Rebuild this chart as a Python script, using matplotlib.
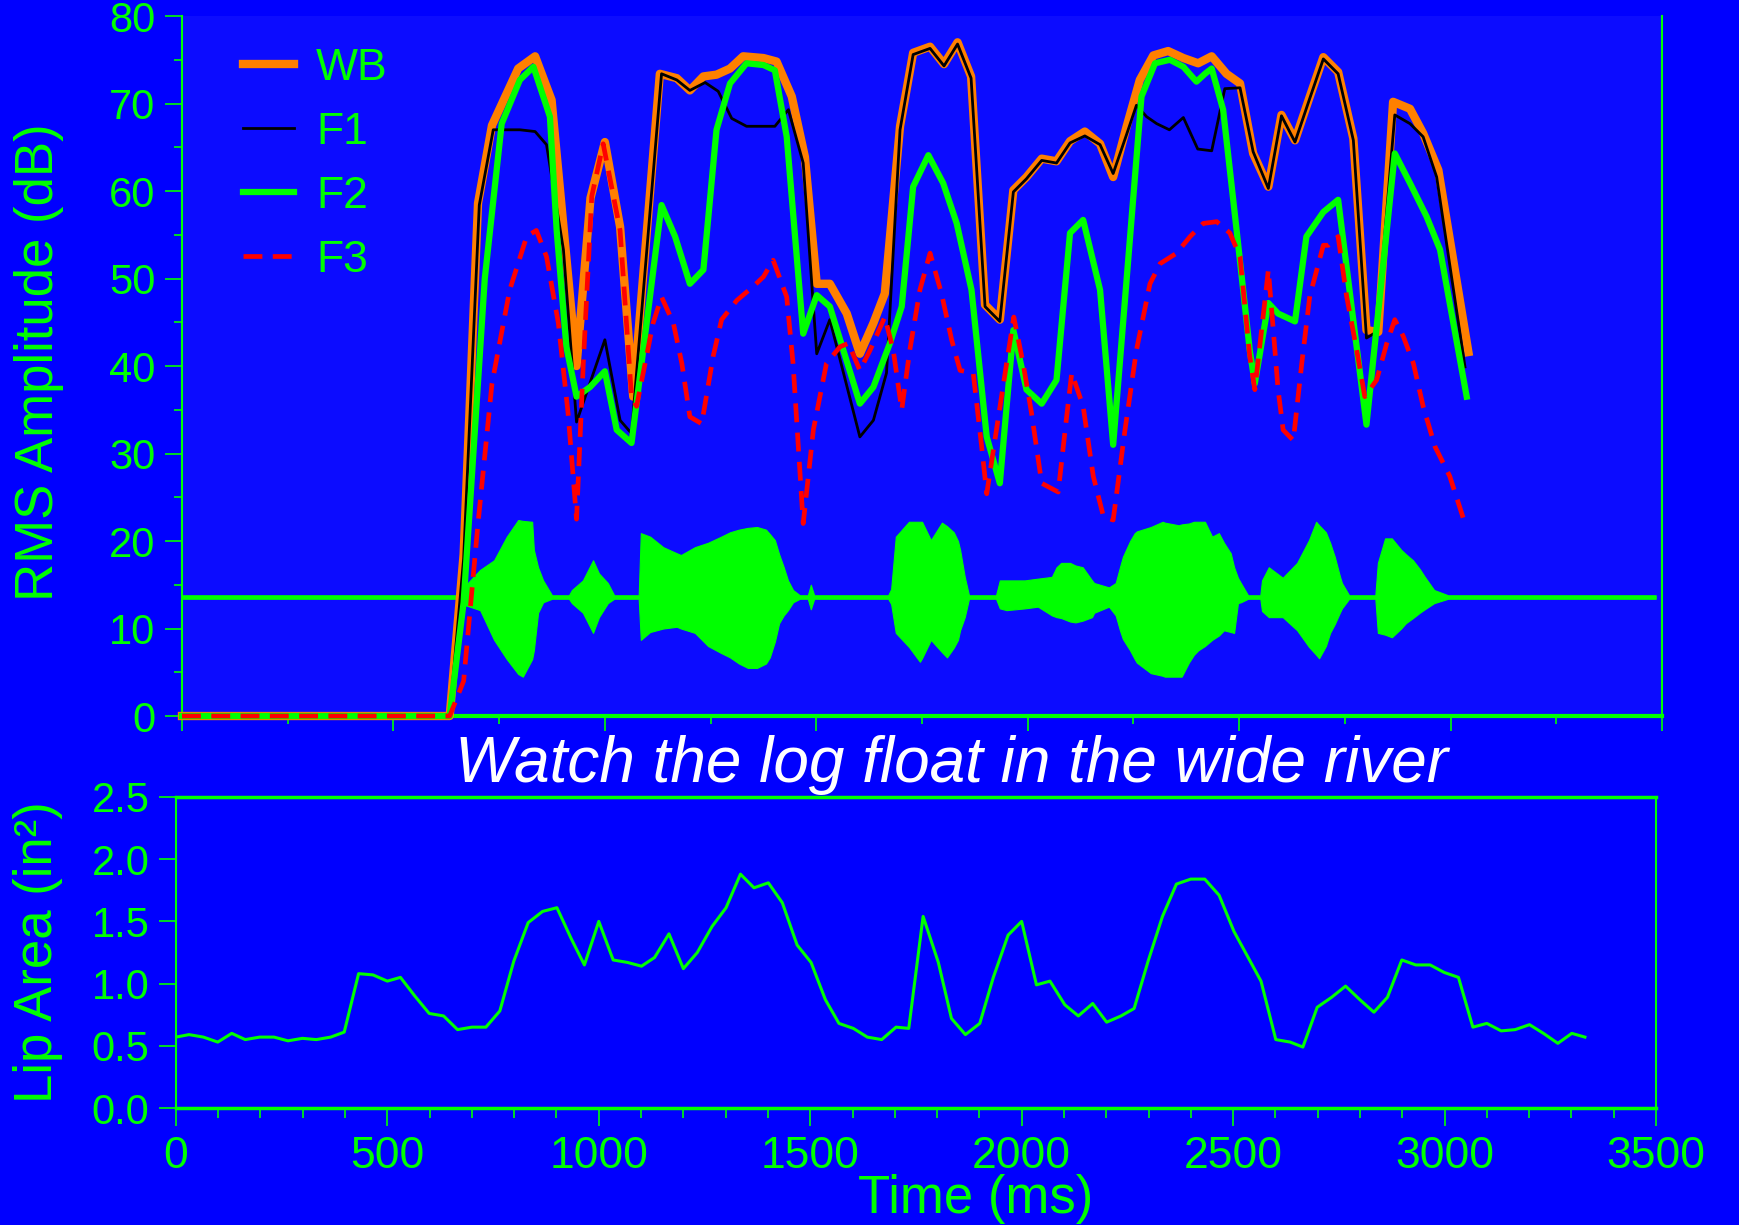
import numpy as np
import matplotlib
matplotlib.use("Agg")
import matplotlib.pyplot as plt
from matplotlib.ticker import MultipleLocator, FormatStrFormatter

plt.rcParams['font.family'] = ['Liberation Sans', 'DejaVu Sans']

GREEN = '#00ff00'
BLUE = '#0000ff'

# RMS amplitude tracks (time in ms, level in dB)
wb_t = [0, 633, 666, 700, 733, 795, 835, 874, 933, 966, 1000, 1036, 1067, 1130, 1170, 1201, 1233, 1264,
        1296, 1327, 1375, 1406, 1442, 1473, 1501, 1532, 1572, 1603, 1635, 1662, 1698, 1729, 1769, 1802,
        1834, 1866, 1899, 1934, 1966, 1997, 2033, 2068, 2100, 2135, 2171, 2202, 2234, 2265, 2297, 2332,
        2368, 2403, 2435, 2470, 2502, 2533, 2569, 2600, 2632, 2667, 2699, 2734, 2770, 2801, 2829, 2864,
        2904, 2935, 2971, 3042]
wb_db = [0, 0, 18.5, 58.6, 67.5, 74.0, 75.4, 70.4, 40.0, 59.2, 65.6, 55.9, 36.5, 73.4, 72.9, 71.5, 73.1,
         73.3, 74.0, 75.4, 75.2, 74.8, 70.8, 63.9, 49.4, 49.4, 46.0, 41.4, 44.9, 48.3, 67.4, 75.8, 76.5,
         74.5, 77.0, 73.1, 47.0, 45.3, 60.1, 61.6, 63.7, 63.4, 65.7, 66.8, 65.4, 61.6, 67.4, 72.7, 75.5,
         76.0, 75.2, 74.6, 75.4, 73.4, 72.3, 64.3, 60.5, 68.7, 65.8, 70.8, 75.3, 73.6, 66.0, 44.1, 43.9,
         70.2, 69.4, 66.6, 62.4, 41.6]

f1_t = [0, 633, 666, 703, 736, 799, 835, 862, 902, 933, 1000, 1036, 1063, 1134, 1170, 1201, 1237, 1268,
        1300, 1335, 1402, 1434, 1469, 1501, 1532, 1603, 1635, 1666, 1698, 1729, 1769, 1802, 1834, 1866,
        1899, 1934, 1966, 1997, 2033, 2068, 2100, 2135, 2171, 2202, 2234, 2257, 2281, 2305, 2335, 2368,
        2402, 2435, 2466, 2502, 2533, 2569, 2600, 2632, 2667, 2699, 2734, 2770, 2801, 2825, 2868, 2904,
        2935, 2967, 3034]
f1_db = [0, 0, 18, 58.4, 67.0, 67.0, 66.8, 65.3, 53.3, 33.6, 43.0, 33.8, 32.3, 73.4, 72.7, 71.5, 72.4,
         71.4, 68.3, 67.4, 67.4, 69.3, 63.2, 41.4, 45.3, 31.9, 33.8, 39.2, 67.0, 75.6, 76.3, 74.3, 76.8,
         72.9, 46.8, 45.1, 59.9, 61.4, 63.5, 63.2, 65.5, 66.3, 65.3, 62.0, 66.5, 69.8, 68.5, 67.7, 67.0,
         68.4, 64.8, 64.6, 71.7, 71.8, 64.5, 60.3, 68.6, 65.6, 70.6, 75.1, 73.4, 65.8, 43.2, 43.9, 68.7,
         67.7, 66.2, 61.6, 39.9]

f2_t = [0, 633, 666, 716, 756, 799, 831, 870, 886, 909, 933, 965, 1000, 1028, 1063, 1134, 1166, 1201,
        1233, 1264, 1296, 1335, 1375, 1402, 1430, 1469, 1501, 1532, 1564, 1603, 1635, 1674, 1702, 1729,
        1765, 1800, 1832, 1867, 1903, 1934, 1966, 1997, 2033, 2068, 2100, 2131, 2171, 2202, 2269, 2301,
        2336, 2368, 2399, 2419, 2435, 2462, 2494, 2525, 2537, 2569, 2592, 2632, 2659, 2699, 2734, 2801,
        2868, 2904, 2943, 2975, 3038]
f2_db = [0, 0, 13, 50.0, 67.7, 72.7, 74.2, 68.5, 55.5, 42.2, 36.5, 37.6, 39.4, 32.7, 31.2, 58.4, 54.8,
         49.4, 51.0, 67.0, 72.3, 74.6, 74.4, 73.8, 66.2, 43.7, 48.1, 46.8, 41.8, 35.7, 37.6, 42.6, 46.8,
         60.5, 64.1, 60.9, 56.3, 48.7, 31.9, 26.6, 44.1, 37.3, 35.7, 38.4, 55.2, 56.7, 48.7, 31.0, 70.8,
         74.6, 75.0, 74.2, 72.5, 73.4, 74.0, 69.3, 55.5, 41.8, 38.0, 47.2, 46.0, 45.1, 54.8, 57.6, 59.0,
         33.3, 64.3, 60.9, 57.1, 53.3, 36.5]

f3_t = [0, 633, 666, 700, 733, 775, 815, 838, 862, 890, 913, 933, 949, 969, 996, 1036, 1063, 1075, 1114,
        1134, 1162, 1182, 1201, 1229, 1256, 1276, 1312, 1351, 1375, 1398, 1430, 1445, 1469, 1493, 1524,
        1556, 1576, 1603, 1627, 1662, 1682, 1702, 1721, 1745, 1769, 1796, 1820, 1840, 1871, 1891, 1903,
        1926, 1950, 1967, 1989, 2009, 2033, 2072, 2092, 2104, 2131, 2155, 2179, 2202, 2230, 2257, 2289,
        2313, 2352, 2384, 2415, 2447, 2478, 2502, 2525, 2537, 2553, 2569, 2580, 2592, 2604, 2628, 2648,
        2667, 2699, 2711, 2734, 2754, 2778, 2797, 2825, 2849, 2868, 2888, 2912, 2935, 2963, 2998, 3034]
f3_db = [0, 0, 4, 22, 38, 48.7, 54.8, 55.5, 52.5, 44.9, 34.6, 22.5, 40.3, 59.4, 65.4, 55.5, 36.5, 35.4,
         44.9, 47.9, 44.9, 40.3, 34.2, 33.4, 41.1, 45.3, 47.5, 49.1, 50.2, 52.1, 47.9, 40.3, 22.0, 32.7,
         40.3, 42.2, 42.6, 39.5, 41.8, 45.6, 41.8, 35.0, 41.8, 48.7, 52.9, 48.3, 43.0, 39.5, 39.2, 30.8,
         25.4, 32.7, 40.3, 45.6, 40.3, 34.6, 26.6, 25.6, 34.2, 39.2, 35.4, 27.4, 22.8, 22.4, 32.7, 41.8,
         49.4, 51.7, 52.9, 54.8, 56.3, 56.5, 55.2, 52.5, 41.1, 37.3, 44.1, 51.0, 44.5, 37.3, 32.7, 31.5,
         40.3, 48.0, 53.8, 53.8, 54.8, 48.0, 41.8, 36.5, 38.4, 42.6, 45.3, 43.4, 40.3, 35.4, 30.8, 27.4,
         22.0]

# speech waveform envelope, drawn in dB units of the upper panel
wave_t = [0, 655, 662, 705, 738, 768, 795, 806, 828, 832, 842, 854, 875, 915, 922, 948, 972, 986, 1007,
          1022, 1080, 1085, 1107, 1138, 1170, 1180, 1213, 1244, 1275, 1296, 1317, 1338, 1360, 1381, 1390,
          1402, 1412, 1423, 1433, 1445, 1461, 1480, 1487, 1495, 1670, 1677, 1688, 1719, 1745, 1750, 1771,
          1797, 1809, 1825, 1835, 1840, 1851, 1861, 1925, 1934, 1950, 1993, 2024, 2057, 2068, 2079, 2100,
          2113, 2130, 2152, 2157, 2192, 2208, 2218, 2225, 2242, 2253, 2258, 2291, 2319, 2324, 2357, 2364,
          2381, 2393, 2403, 2419, 2436, 2452, 2464, 2480, 2488, 2497, 2504, 2521, 2550, 2554, 2570, 2603,
          2637, 2665, 2682, 2689, 2705, 2715, 2726, 2738, 2743, 2760, 2822, 2828, 2845, 2861, 2883, 2894,
          2911, 2927, 2939, 2961, 2994, 3485]
wave_hi = [13.8, 13.8, 14.5, 16.7, 17.8, 20.5, 22.4, 22.3, 22.2, 19.0, 17.0, 15.5, 13.8, 13.8, 14.4,
           15.5, 17.8, 16.3, 15.2, 13.8, 13.8, 20.9, 20.5, 19.3, 18.6, 18.4, 19.3, 19.8, 20.5, 21.0,
           21.3, 21.5, 21.6, 21.3, 20.8, 20.1, 18.5, 17.0, 15.5, 14.4, 13.8, 13.8, 15.0, 13.8, 13.8,
           14.5, 20.5, 22.2, 22.2, 22.2, 20.1, 22.1, 21.7, 21.0, 20.0, 19.0, 15.9, 13.8, 13.8, 15.5,
           15.5, 15.5, 15.7, 15.9, 17.0, 17.5, 17.5, 17.2, 17.0, 15.5, 15.2, 14.7, 15.2, 17.0, 18.2,
           20.0, 20.9, 21.1, 21.6, 22.2, 22.1, 21.8, 21.9, 22.0, 22.2, 22.2, 22.2, 20.5, 20.9, 19.8,
           18.6, 17.0, 15.8, 15.2, 13.8, 13.8, 15.5, 17.0, 15.8, 17.5, 20.1, 22.2, 21.8, 21.0, 19.8,
           18.2, 16.0, 15.2, 13.8, 13.8, 17.5, 20.3, 20.3, 19.0, 18.5, 17.8, 16.8, 15.9, 14.4, 13.8,
           13.8]
wave_lo = [13.4, 13.4, 12.8, 12.1, 8.7, 6.5, 4.8, 4.5, 6.5, 7.5, 11.8, 13.0, 13.4, 13.4, 12.9, 11.8,
           9.5, 11.3, 12.9, 13.4, 13.4, 8.7, 9.6, 10.0, 10.2, 10.0, 9.5, 8.0, 7.2, 6.7, 6.0, 5.5, 5.5,
           6.0, 6.7, 8.5, 10.6, 11.5, 12.1, 13.0, 13.4, 13.4, 12.2, 13.4, 13.4, 12.8, 9.5, 7.9, 6.2,
           6.6, 8.7, 7.3, 6.7, 7.8, 8.7, 9.8, 11.3, 13.4, 13.4, 12.3, 12.1, 12.3, 12.5, 11.5, 11.3,
           11.2, 10.8, 10.7, 10.9, 11.3, 11.8, 12.5, 11.5, 9.8, 8.8, 7.5, 6.5, 6.1, 4.9, 4.6, 4.5, 4.5,
           4.5, 6.1, 7.0, 7.5, 8.0, 8.7, 9.2, 9.8, 9.6, 9.5, 12.9, 13.0, 13.4, 13.4, 12.0, 11.3, 11.3,
           9.8, 7.9, 7.0, 6.6, 8.0, 9.5, 10.5, 11.8, 12.3, 13.4, 13.4, 9.5, 9.3, 9.0, 10.0, 10.6, 11.2,
           11.8, 12.2, 12.9, 13.4, 13.4]

# lip area (in^2), one value per video frame
lip_t = [0, 31, 65, 99, 132, 164, 198, 232, 265, 299, 332, 366, 398, 432, 466, 500, 531, 565, 599, 633,
         666, 700, 733, 766, 799, 833, 867, 901, 935, 966, 1000, 1034, 1068, 1101, 1132, 1166, 1200,
         1233, 1268, 1301, 1335, 1367, 1401, 1434, 1469, 1502, 1536, 1568, 1602, 1635, 1669, 1703, 1733,
         1767, 1803, 1834, 1867, 1901, 1933, 1968, 2000, 2035, 2067, 2102, 2134, 2168, 2201, 2235, 2266,
         2299, 2333, 2366, 2400, 2433, 2467, 2502, 2534, 2566, 2601, 2635, 2665, 2699, 2733, 2766, 2800,
         2833, 2865, 2899, 2932, 2966, 2999, 3033, 3067, 3100, 3134, 3167, 3201, 3234, 3268, 3301, 3332]
lip_v = [0.57, 0.59, 0.57, 0.53, 0.60, 0.55, 0.57, 0.57, 0.54, 0.56, 0.55, 0.57, 0.61, 1.08, 1.07, 1.02,
         1.05, 0.90, 0.76, 0.74, 0.63, 0.65, 0.65, 0.78, 1.18, 1.49, 1.58, 1.61, 1.36, 1.15, 1.50, 1.19,
         1.17, 1.14, 1.21, 1.40, 1.12, 1.25, 1.46, 1.61, 1.88, 1.77, 1.81, 1.65, 1.31, 1.17, 0.87, 0.68,
         0.64, 0.57, 0.55, 0.65, 0.64, 1.54, 1.17, 0.72, 0.59, 0.68, 1.05, 1.39, 1.50, 0.99, 1.02, 0.83,
         0.74, 0.84, 0.69, 0.74, 0.80, 1.18, 1.54, 1.80, 1.84, 1.84, 1.71, 1.42, 1.22, 1.02, 0.55, 0.53,
         0.49, 0.81, 0.89, 0.98, 0.87, 0.77, 0.89, 1.19, 1.15, 1.15, 1.09, 1.05, 0.65, 0.68, 0.62, 0.63,
         0.67, 0.60, 0.52, 0.60, 0.57]

sentence = 'Watch the log float in the wide river'

fig = plt.figure(figsize=(17.4, 12.25), dpi=100, facecolor=BLUE)

# --- upper panel: RMS amplitude
ax = fig.add_axes([0.1046, 0.4155, 0.8506, 0.5714])
ax.set_facecolor('#0c0cff')
ax.fill_between(wave_t, wave_lo, wave_hi, color=GREEN, lw=0.8, zorder=1)
ax.plot(wb_t, wb_db, color='#ff8000', lw=6, label='WB', clip_on=False, zorder=3)
ax.plot(f1_t, f1_db, color='black', lw=2, label='F1', clip_on=False, zorder=4)
ax.plot(f2_t, f2_db, color=GREEN, lw=4.5, label='F2', clip_on=False, zorder=5)
ax.plot(f3_t, f3_db, color='#ff0000', lw=3.4, ls=(0, (4.0, 2.2)), label='F3', clip_on=False, zorder=6)

ax.set_xlim(0, 3500)
ax.set_ylim(0, 80)
ax.yaxis.set_major_locator(MultipleLocator(10))
ax.yaxis.set_minor_locator(MultipleLocator(5))
ax.xaxis.set_major_locator(MultipleLocator(500))
ax.xaxis.set_minor_locator(MultipleLocator(250))
ax.tick_params(axis='x', which='both', labelbottom=False, direction='out', colors=GREEN)
ax.tick_params(axis='x', which='major', length=11, width=1.2)
ax.tick_params(axis='x', which='minor', length=6, width=1.2)
ax.tick_params(axis='y', which='major', length=12, width=1.2, colors=GREEN, labelsize=30, pad=7)
ax.tick_params(axis='y', which='minor', length=6, width=1.2, colors=GREEN)
ax.spines['top'].set_visible(False)
ax.spines['left'].set_color(GREEN)
ax.spines['left'].set_linewidth(1.5)
ax.spines['right'].set_color(GREEN)
ax.spines['right'].set_linewidth(1.5)
ax.spines['bottom'].set_color(GREEN)
ax.spines['bottom'].set_linewidth(3)
ax.set_ylabel('RMS Amplitude (dB)', color=GREEN, fontsize=38)
ax.yaxis.set_label_coords(-0.08, 0.506)

leg = ax.legend(loc='upper left', bbox_to_anchor=(0.041, 0.955), frameon=False, fontsize=32,
                handlelength=1.15, handletextpad=0.5, labelspacing=0.52, borderpad=0,
                borderaxespad=0)
for txt in leg.get_texts():
    txt.set_color(GREEN)

# --- lower panel: lip area
ax2 = fig.add_axes([0.1011, 0.0955, 0.8506, 0.2539])
ax2.set_facecolor(BLUE)
ax2.plot(lip_t, lip_v, color=GREEN, lw=2.2)
ax2.set_xlim(0, 3500)
ax2.set_ylim(0, 2.5)
ax2.xaxis.set_major_locator(MultipleLocator(500))
ax2.xaxis.set_minor_locator(MultipleLocator(100))
ax2.yaxis.set_major_locator(MultipleLocator(0.5))
ax2.yaxis.set_major_formatter(FormatStrFormatter('%.1f'))
ax2.tick_params(axis='x', which='major', length=13, width=1.2, colors=GREEN, labelsize=32, pad=7)
ax2.tick_params(axis='x', which='minor', length=7, width=1.2, colors=GREEN)
ax2.tick_params(axis='y', which='major', length=12, width=1.2, colors=GREEN, labelsize=30, pad=7)
for side, w in (('top', 2.5), ('bottom', 2.5), ('left', 1.5), ('right', 1.5)):
    ax2.spines[side].set_color(GREEN)
    ax2.spines[side].set_linewidth(w)
ax2.set_ylabel('Lip Area (in²)', color=GREEN, fontsize=38)
ax2.yaxis.set_label_coords(-0.076, 0.5)
ax2.set_xlabel('Time (ms)', color=GREEN, fontsize=38)
ax2.xaxis.set_label_coords(0.54, -0.212)

fig.text(0.5466, 0.3616, sentence, color='white', style='italic', fontsize=46,
         ha='center', va='baseline')

fig.savefig('out.png', dpi=100, facecolor=BLUE)
